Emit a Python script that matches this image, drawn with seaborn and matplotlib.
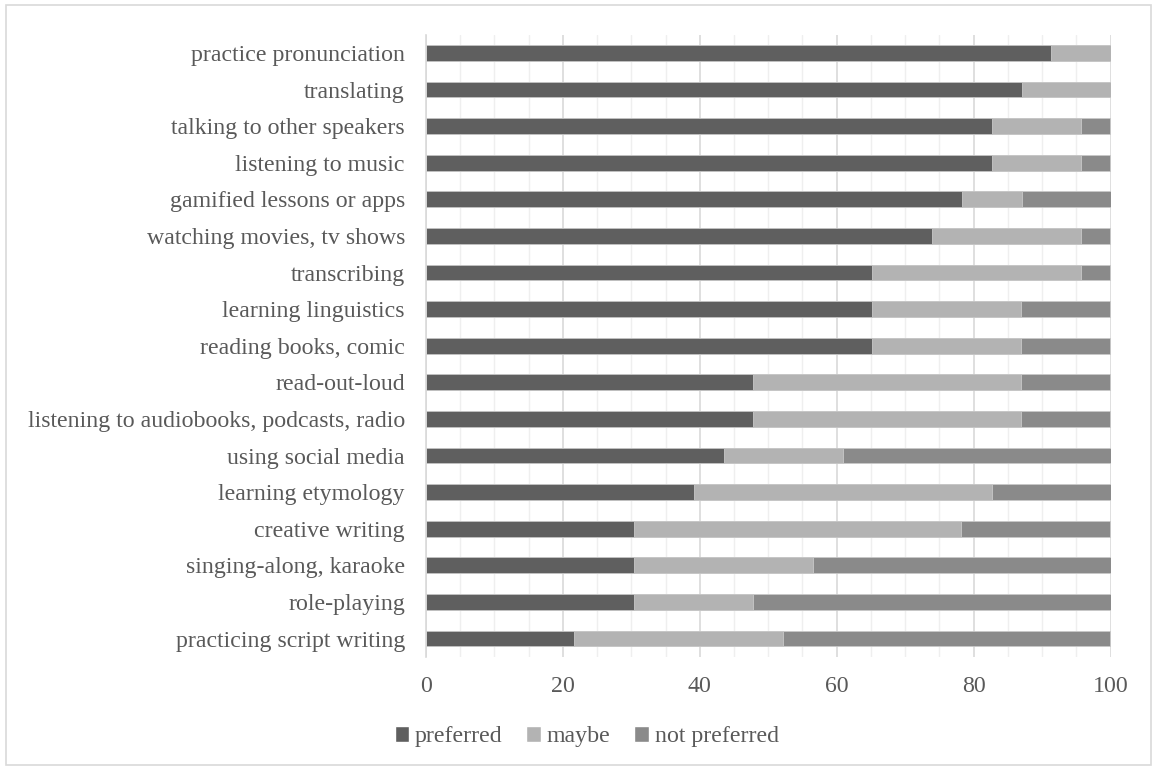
import pandas as pd
import matplotlib.pyplot as plt
import seaborn as sns
import numpy as np
from matplotlib.patches import Patch, Rectangle
from matplotlib.ticker import MultipleLocator, FixedLocator

activities = ["practice pronunciation", "translating", "talking to other speakers",
              "listening to music", "gamified lessons or apps", "watching movies, tv shows",
              "transcribing", "learning linguistics", "reading books, comic", "read-out-loud",
              "listening to audiobooks, podcasts, radio", "using social media",
              "learning etymology", "creative writing", "singing-along, karaoke",
              "role-playing", "practicing script writing"]
preferred = [91.3, 87.0, 82.6, 82.6, 78.3, 73.9, 65.2, 65.2, 65.2, 47.8, 47.8, 43.5, 39.1, 30.4, 30.4, 30.4, 21.7]
maybe = [8.7, 13.0, 13.0, 13.0, 8.7, 21.7, 30.4, 21.7, 21.7, 39.1, 39.1, 17.4, 43.5, 47.8, 26.1, 17.4, 30.4]
not_preferred = [0.0, 0.0, 4.3, 4.3, 13.0, 4.3, 4.3, 13.0, 13.0, 13.0, 13.0, 39.1, 17.4, 21.7, 43.5, 52.2, 47.8]
series = ["preferred", "maybe", "not preferred"]
colors = ["#5f5f5f", "#b3b3b3", "#8a8a8a"]

df = pd.DataFrame({"activity": activities, "preferred": preferred,
                   "maybe": maybe, "not preferred": not_preferred})
df["c_pref"] = df["preferred"]
df["c_maybe"] = df["preferred"] + df["maybe"]
df["c_all"] = df["c_maybe"] + df["not preferred"]

sns.set_style("white")
plt.rcParams["font.family"] = ["Liberation Serif", "DejaVu Serif"]
txt = "#595959"
fs = 17.2

fig = plt.figure(figsize=(11.57, 7.70), dpi=100)
ax = fig.add_axes([0.368, 0.147, 0.592, 0.808])

# stacked bars: draw cumulative totals back to front
for col, c in zip(["c_all", "c_maybe", "c_pref"], colors[::-1]):
    sns.barplot(data=df, x=col, y="activity", color=c, width=0.43, ax=ax,
                orient="h", edgecolor="#c8c8c8", linewidth=0.6, saturation=1)

ax.set_xlim(0, 100)
ax.set_ylim(16.5, -0.5)
ax.xaxis.set_major_locator(MultipleLocator(20))
ax.xaxis.set_minor_locator(MultipleLocator(5))
ax.grid(axis="x", which="major", color="#d9d9d9", linewidth=1.2)
ax.grid(axis="x", which="minor", color="#efefef", linewidth=1.0)
ax.set_axisbelow(True)
ax.set_xlabel("")
ax.set_ylabel("")
for s in ["top", "right", "bottom"]:
    ax.spines[s].set_visible(False)
ax.spines["left"].set_color("#d9d9d9")
ax.spines["left"].set_linewidth(1.2)
ax.yaxis.set_minor_locator(FixedLocator(np.arange(-0.5, 17, 1)))
ax.tick_params(axis="y", which="major", length=0, labelsize=fs, labelcolor=txt, pad=15)
ax.tick_params(axis="y", which="minor", length=5, color="#d9d9d9", width=1.2)
ax.tick_params(axis="x", which="both", length=0, labelsize=fs, labelcolor=txt, pad=14)

handles = [Patch(facecolor=c, label=l) for c, l in zip(colors, series)]
fig.legend(handles=handles, loc="center", bbox_to_anchor=(0.507, 0.043), ncol=3, frameon=False,
           fontsize=fs, labelcolor=txt, handlelength=0.6, handleheight=0.6,
           handletextpad=0.25, columnspacing=1.0)

fig.patches.append(Rectangle((0.005, 0.006), 0.99, 0.988, transform=fig.transFigure,
                             fill=False, edgecolor="#d9d9d9", linewidth=1.2))

fig.savefig("out.png", dpi=100)
